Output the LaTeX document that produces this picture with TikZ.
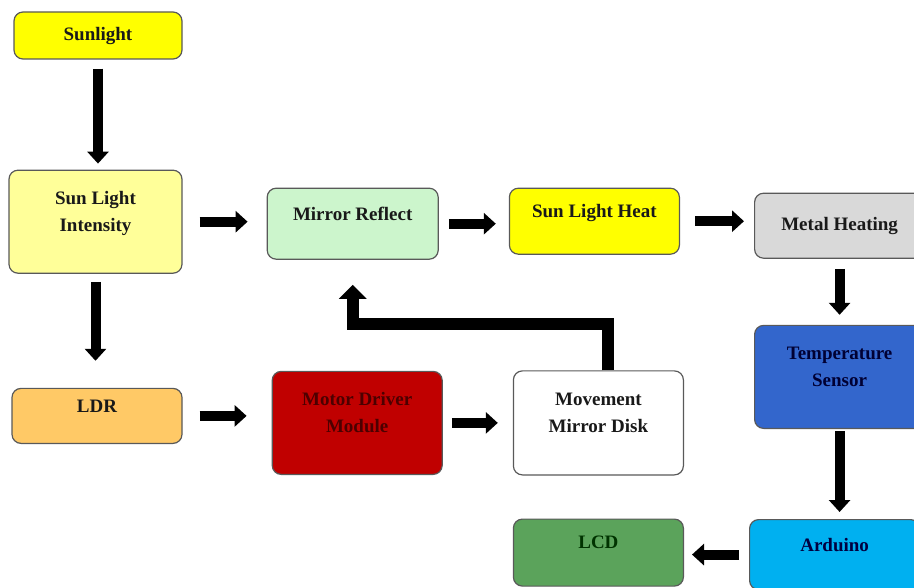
\documentclass[tikz,border=0pt]{standalone}
\usepackage{fontspec}
\setmainfont{Liberation Serif}
\usepackage{xcolor}
\usepackage{tikz}
\usetikzlibrary{arrows.meta,positioning}
\definecolor{sunyellow}{HTML}{FFFF00}
\definecolor{paleyellow}{HTML}{FFFF99}
\definecolor{ldrorange}{HTML}{FFC966}
\definecolor{mintgreen}{HTML}{CCF5CC}
\definecolor{metalgray}{HTML}{D9D9D9}
\definecolor{sensorblue}{HTML}{3366CC}
\definecolor{motorred}{HTML}{C00000}
\definecolor{arduinoblue}{HTML}{00B0F0}
\definecolor{lcdgreen}{HTML}{5BA35B}
\tikzset{
  blk/.style={rectangle, rounded corners=9pt, draw=black!65, line width=1.2pt,
    align=center, minimum width=170pt, text depth=20pt,
    font=\fontsize{19}{27}\selectfont\bfseries, text=black!90, inner sep=3pt},
  arr/.style={-{Triangle[width=21pt,length=12pt]}, line width=10pt, draw=black},
  arrbig/.style={-{Triangle[width=27pt,length=14pt]}, line width=12pt, draw=black, line join=miter},
}
\begin{document}
\begin{tikzpicture}
  \useasboundingbox (0,0) rectangle (914pt,-588pt);
  \node[blk, fill=sunyellow, minimum width=168pt, minimum height=47pt, text depth=4pt] (sunlight) at (98pt,-35.5pt) {Sunlight};
  \node[blk, fill=paleyellow, minimum width=173pt, minimum height=103pt, below=110pt of sunlight, xshift=-2.5pt] (intensity) {Sun Light\\Intensity};
  \node[blk, fill=ldrorange, minimum height=55pt, below=114pt of intensity, xshift=1.5pt] (ldr) {LDR};
  \node[blk, fill=mintgreen, minimum width=171pt, minimum height=71pt, right=84pt of intensity, yshift=-2pt] (mirror) {Mirror Reflect};
  \node[blk, fill=sunyellow, minimum height=66pt, right=70pt of mirror, yshift=2.5pt] (heat) {Sun Light Heat};
  \node[blk, fill=metalgray, minimum height=65pt, text depth=4pt, right=74pt of heat, yshift=-4.5pt] (metal) {Metal Heating};
  \node[blk, fill=sensorblue, minimum height=103pt, text=blue!20!black, below=66pt of metal] (temp) {Temperature\\Sensor};
  \node[blk, fill=arduinoblue, minimum height=70pt, text=blue!25!black, below=90pt of temp, xshift=-5pt] (arduino) {Arduino};
  \node[blk, fill=lcdgreen, minimum height=67pt, text=green!20!black, left=65pt of arduino, yshift=2pt] (lcd) {LCD};
  \node[blk, fill=motorred, minimum height=103pt, text=red!30!black, right=89pt of ldr, yshift=-7pt] (motor) {Motor Driver\\Module};
  \node[blk, fill=white, minimum height=104pt, right=70pt of motor] (movement) {Movement\\Mirror Disk};
  % connectors
  \draw[arr, shorten <=9pt, shorten >=6pt] (sunlight.south) -- (sunlight.south |- intensity.north);
  \draw[arr, shorten <=8pt, shorten >=27pt] (intensity.south) -- (intensity.south |- ldr.north);
  \draw[arr, shorten <=17pt, shorten >=19pt] (intensity.east) -- (intensity.east -| mirror.west);
  \draw[arr, shorten <=10pt, shorten >=13pt] (mirror.east) -- (mirror.east -| heat.west);
  \draw[arr, shorten <=15pt, shorten >=10pt] (heat.east) -- (heat.east -| metal.west);
  \draw[arr, shorten <=10pt, shorten >=10pt] (metal.south) -- (temp.north);
  \draw[arr, shorten <=2pt, shorten >=7pt] (temp.south) -- (temp.south |- arduino.north);
  \draw[arr, shorten <=10pt, shorten >=8pt] (arduino.west) -- (arduino.west -| lcd.east);
  \draw[arr, shorten <=17pt, shorten >=25pt] (ldr.east) -- (ldr.east -| motor.west);
  \draw[arr, shorten <=9pt, shorten >=15pt] (motor.east) -- (motor.east -| movement.west);
  \draw[arrbig, shorten >=25pt] ([xshift=10pt]movement.north) -- ++(0,46pt) -| (mirror.south);
\end{tikzpicture}
\end{document}
